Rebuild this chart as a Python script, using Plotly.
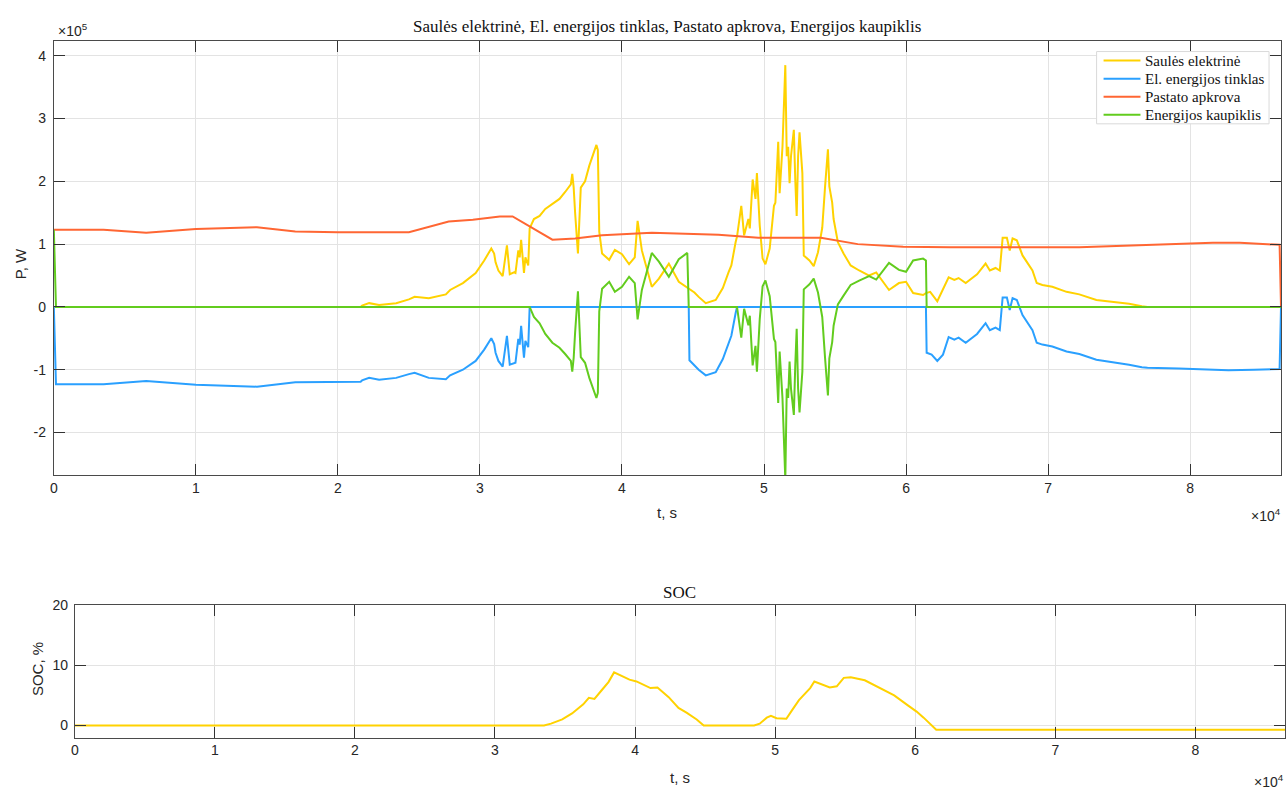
import plotly.graph_objects as go

# --- Power flows (time in s, power in W) ---
t_solar = [0, 21600, 21700, 22200, 22900, 24100, 25000, 25400, 26400, 27600, 27900, 28800, 29700,
           30300, 30800, 31000, 31100, 31300, 31600, 31700, 31900, 32100, 32400, 32500, 32700,
           32800, 32900, 33100, 33200, 33400, 33500, 33800, 34200, 34600, 35100, 35600, 36000,
           36200, 36400, 36500, 36600, 36700, 36900, 37100, 37400, 37700, 38000, 38200, 38300,
           38400, 38600, 39100, 39500, 40000, 40500, 40900, 41100, 41400, 41700, 42100, 42600,
           43300, 44000, 44600, 45100, 45400, 45900, 46600, 47100, 47500, 47700, 48000, 48100,
           48400, 48600, 48900, 49000, 49200, 49400, 49500, 49700, 49900, 50100, 50400, 50700,
           50800, 51000, 51100, 51200, 51300, 51500, 51600, 51700, 51800, 51900, 52100, 52200,
           52300, 52400, 52500, 52700, 52800, 53200, 53500, 53800, 54100, 54300, 54500, 54600,
           54800, 54900, 55200, 55600, 56100, 56700, 57400, 57900, 58200, 58800, 59500, 60000,
           60500, 61200, 61400, 61700, 62200, 63000, 63400, 63700, 64200, 65000, 65600, 65900,
           66300, 66600, 66800, 67100, 67300, 67500, 67800, 68200, 68900, 69200, 69600, 70300,
           71300, 72200, 73400, 74600, 75700, 76600, 77000, 86400]
p_solar = [0, 0, 2e3, 6e3, 3e3, 6e3, 1.2e4, 1.6e4, 1.4e4, 2.0e4, 2.7e4, 3.8e4, 5.4e4,
           7.4e4, 9.3e4, 8.5e4, 7.1e4, 5.8e4, 4.9e4, 6.6e4, 9.8e4, 5.2e4, 5.5e4, 5.4e4, 9.0e4,
           7.9e4, 1.07e5, 5.4e4, 7.9e4, 6.6e4, 1.25e5, 1.40e5, 1.45e5, 1.56e5, 1.64e5, 1.72e5, 1.83e5,
           1.89e5, 1.95e5, 2.12e5, 1.90e5, 1.50e5, 8.5e4, 1.90e5, 2.00e5, 2.25e5, 2.45e5, 2.58e5, 2.50e5,
           1.20e5, 8.5e4, 7.5e4, 9.1e4, 8.4e4, 6.8e4, 7.9e4, 1.37e5, 9.0e4, 6.5e4, 3.2e4, 4.5e4,
           6.9e4, 4.0e4, 3.0e4, 2.3e4, 1.6e4, 6e3, 1.1e4, 3.0e4, 5.5e4, 6.6e4, 1.03e5, 1.12e5,
           1.61e5, 1.14e5, 1.40e5, 1.25e5, 2.03e5, 1.72e5, 2.13e5, 1.29e5, 7.7e4, 6.8e4, 9.3e4, 1.61e5,
           1.66e5, 2.63e5, 1.81e5, 2.29e5, 2.55e5, 3.85e5, 2.40e5, 2.55e5, 1.97e5, 2.40e5, 2.82e5, 2.03e5,
           1.45e5, 2.40e5, 2.78e5, 2.13e5, 8.2e4, 7.4e4, 6.5e4, 8.7e4, 1.26e5, 1.92e5, 2.51e5, 1.92e5,
           1.66e5, 1.40e5, 1.03e5, 8.5e4, 6.6e4, 5.8e4, 5.0e4, 5.5e4, 4.6e4, 2.7e4, 3.8e4, 4.0e4,
           2.2e4, 1.9e4, 2.2e4, 2.4e4, 9e3, 4.7e4, 4.3e4, 4.6e4, 3.8e4, 5.2e4, 6.9e4, 5.8e4,
           6.2e4, 5.8e4, 1.10e5, 1.10e5, 9.0e4, 1.09e5, 1.06e5, 8.2e4, 5.8e4, 3.8e4, 3.5e4, 3.2e4,
           2.4e4, 2.0e4, 1.1e4, 8e3, 5e3, 1e3, 0, 0]

t_grid = [0, 150, 3500, 6500, 10000, 14300, 17000, 20000, 21600, 21700, 22200, 22900, 24100,
          25000, 25400, 26400, 27600, 27900, 28800, 29700, 30300, 30800, 31000, 31100, 31300,
          31600, 31700, 31900, 32100, 32400, 32500, 32700, 32800, 32900, 33100, 33200, 33400,
          33500, 44700, 44750, 45100, 45400, 45900, 46600, 47100, 47500, 47700, 48000, 48100,
          61400, 61450, 61800, 62200, 62600, 63000, 63400, 63700, 64200, 65000, 65600, 65900,
          66300, 66600, 66800, 67100, 67300, 67500, 67800, 68200, 68900, 69200, 69600, 70300,
          71300, 72200, 73400, 74600, 75700, 76600, 77000, 79200, 81600, 82700, 84500, 86300, 86400]
p_grid = [0, -1.23e5, -1.23e5, -1.18e5, -1.24e5, -1.27e5, -1.20e5, -1.19e5, -1.19e5, -1.17e5, -1.13e5, -1.16e5, -1.13e5,
          -1.07e5, -1.05e5, -1.13e5, -1.15e5, -1.09e5, -1.00e5, -8.6e4, -6.8e4, -5.0e4, -5.9e4, -7.3e4, -8.6e4,
          -9.5e4, -7.8e4, -4.6e4, -9.2e4, -8.9e4, -8.9e4, -5.1e4, -6.0e4, -3.0e4, -8.1e4, -5.4e4, -6.4e4,
          0, 0, -8.5e4, -9.3e4, -1.00e5, -1.09e5, -1.04e5, -8.3e4, -5.8e4, -4.6e4, -1.0e4, 0,
          0, -7.3e4, -7.6e4, -8.6e4, -7.6e4, -4.8e4, -5.2e4, -4.9e4, -5.7e4, -4.3e4, -2.6e4, -3.7e4,
          -3.3e4, -3.7e4, 1.5e4, 1.5e4, -5e3, 1.4e4, 1.1e4, -1.3e4, -3.7e4, -5.7e4, -6.0e4, -6.3e4,
          -7.1e4, -7.5e4, -8.4e4, -8.8e4, -9.2e4, -9.6e4, -9.7e4, -9.8e4, -1.00e5, -1.01e5, -1.00e5, -9.9e4, 0]

t_load = [0, 3500, 6500, 10000, 14300, 17000, 20000, 25000, 27800, 29500, 31400, 32300, 35100,
          36700, 38600, 42100, 46800, 49600, 54000, 56600, 59800, 63100, 72200, 76900, 81600,
          83500, 86300, 86400]
p_load = [1.23e5, 1.23e5, 1.18e5, 1.24e5, 1.27e5, 1.20e5, 1.19e5, 1.19e5, 1.36e5, 1.39e5, 1.44e5, 1.44e5, 1.07e5,
          1.09e5, 1.14e5, 1.18e5, 1.15e5, 1.10e5, 1.10e5, 1.00e5, 0.96e5, 0.95e5, 0.95e5, 0.98e5, 1.02e5,
          1.02e5, 0.99e5, 0]

t_storage = [0, 150, 33500, 33800, 34200, 34600, 35100, 35600, 36000, 36200, 36400, 36500, 36600,
             36700, 36900, 37100, 37400, 37700, 38000, 38200, 38300, 38400, 38600, 39100, 39500,
             40000, 40500, 40900, 41100, 41400, 41700, 42100, 42600, 43300, 44000, 44600, 44700,
             48100, 48400, 48600, 48900, 49000, 49200, 49400, 49500, 49700, 49900, 50100, 50400,
             50700, 50800, 51000, 51100, 51200, 51300, 51500, 51600, 51700, 51800, 51900, 52100,
             52200, 52300, 52400, 52500, 52700, 52800, 53200, 53500, 53800, 54100, 54300, 54500,
             54600, 54800, 54900, 55200, 55600, 56100, 56700, 57400, 57900, 58200, 58800, 59500,
             60000, 60500, 61200, 61400, 61450, 86400]
p_storage = [1.23e5, 0, 0, -1.6e4, -2.6e4, -4.3e4, -5.7e4, -6.5e4, -7.5e4, -8.0e4, -8.6e4, -1.03e5, -8.1e4,
             -4.1e4, 2.5e4, -8.0e4, -8.9e4, -1.13e5, -1.33e5, -1.45e5, -1.37e5, -7e3, 2.9e4, 4.0e4, 2.4e4,
             3.2e4, 4.8e4, 3.8e4, -2.0e4, 2.7e4, 5.2e4, 8.6e4, 7.2e4, 4.8e4, 7.6e4, 8.6e4, 0,
             0, -4.9e4, -3e3, -2.9e4, -1.4e4, -9.3e4, -6.2e4, -1.03e5, -1.9e4, 3.3e4, 4.2e4, 1.7e4,
             -5.1e4, -5.6e4, -1.53e5, -7.1e4, -1.19e5, -1.45e5, -2.75e5, -1.30e5, -1.45e5, -8.7e4, -1.30e5, -1.72e5,
             -9.3e4, -3.5e4, -1.30e5, -1.68e5, -1.03e5, 2.8e4, 3.6e4, 4.5e4, 2.3e4, -1.6e4, -8.2e4, -1.41e5,
             -8.2e4, -5.6e4, -3.0e4, 4e3, 1.8e4, 3.5e4, 4.2e4, 4.9e4, 4.35e4, 5.2e4, 7.0e4, 5.9e4,
             5.6e4, 7.4e4, 7.7e4, 7.4e4, 0, 0]

# --- State of charge (%) ---
t_soc = [0, 33500, 34000, 34800, 35500, 36300, 36700, 37100, 37600, 38100, 38500, 39600, 40100,
         41100, 41600, 42400, 43100, 43700, 44400, 44900, 48500, 48900, 49400, 49700, 50100,
         50800, 51200, 51700, 52500, 52800, 53900, 54400, 54900, 55400, 56400, 57800, 58500,
         59500, 60100, 60600, 61500, 86400]
soc = [0, 0, 0.3, 1.0, 2.0, 3.5, 4.6, 4.4, 5.8, 7.2, 8.8, 7.6, 7.3,
       6.2, 6.3, 4.7, 2.9, 2.1, 1.0, 0, 0, 0.3, 1.3, 1.6, 1.2,
       1.1, 2.5, 4.2, 6.2, 7.3, 6.3, 6.5, 7.9, 8.0, 7.5, 5.9, 5.0,
       3.3, 2.3, 1.3, -0.7, -0.7]

series_names = ["Saulės elektrinė", "El. energijos tinklas", "Pastato apkrova", "Energijos kaupiklis"]
series_colors = ["#FFD200", "#2AA0FF", "#FF6633", "#62CC1E"]
soc_color = "#FFD200"

x_ticks = [0, 10000, 20000, 30000, 40000, 50000, 60000, 70000, 80000]
x_tick_text = ["0", "1", "2", "3", "4", "5", "6", "7", "8"]
p_ticks = [-200000, -100000, 0, 100000, 200000, 300000, 400000]
p_tick_text = ["-2", "-1", "0", "1", "2", "3", "4"]
soc_ticks = [0, 10, 20]

W, H = 1286, 789
SANS = "Liberation Sans, Arial, sans-serif"
SERIF = "Liberation Serif, Times New Roman, serif"
AXIS_COL = "#4A4A4A"
GRID_COL = "#E3E3E3"
TXT_COL = "#262626"
LINE_W = 2


def px_x(p):
    return p / W


def px_y(p):
    return 1 - p / H


fig = go.Figure()
for t, p, name, col in zip([t_solar, t_grid, t_load, t_storage],
                           [p_solar, p_grid, p_load, p_storage],
                           series_names, series_colors):
    fig.add_trace(go.Scatter(x=t, y=p, mode="lines", name=name, showlegend=False,
                             line=dict(color=col, width=LINE_W),
                             xaxis="x", yaxis="y"))

fig.add_trace(go.Scatter(x=t_soc, y=soc, mode="lines", name="SOC", showlegend=False,
                         line=dict(color=soc_color, width=LINE_W),
                         xaxis="x2", yaxis="y2"))

axis_common = dict(showline=True, linecolor=AXIS_COL, linewidth=1, mirror="allticks",
                   ticks="inside", ticklen=11, tickcolor="#333333", tickwidth=1,
                   showgrid=True, gridcolor=GRID_COL, gridwidth=1, zeroline=False,
                   tickfont=dict(family=SANS, size=14, color=TXT_COL))

fig.update_layout(
    width=W, height=H,
    margin=dict(l=0, r=0, t=0, b=0),
    paper_bgcolor="white", plot_bgcolor="white",
    showlegend=False,
    xaxis=dict(domain=[px_x(50), px_x(1281)], range=[0, 86400], anchor="y",
               tickmode="array", tickvals=x_ticks, ticktext=x_tick_text, **axis_common),
    yaxis=dict(domain=[px_y(472), px_y(33)], range=[-268000, 424000], anchor="x",
               tickmode="array", tickvals=p_ticks, ticktext=p_tick_text,
               ticklabelstandoff=4, **axis_common),
    xaxis2=dict(domain=[px_x(71), px_x(1285)], range=[0, 86400], anchor="y2",
                tickmode="array", tickvals=x_ticks, ticktext=x_tick_text, **axis_common),
    yaxis2=dict(domain=[px_y(737), px_y(603)], range=[-2, 20], anchor="x2",
                tickmode="array", tickvals=soc_ticks, ticklabelstandoff=3, **axis_common),
)

# Legend box of the power plot (top right, inside the axes)
LEG_L, LEG_R, LEG_T, LEG_B = 1096, 1269, 44, 117
fig.add_shape(type="rect", xref="paper", yref="paper",
              x0=px_x(LEG_L), x1=px_x(LEG_R), y0=px_y(LEG_B), y1=px_y(LEG_T),
              fillcolor="white", line=dict(color="#DADADA", width=1), layer="above")
row_h = (LEG_B - LEG_T) / len(series_names)
for i, (name, col) in enumerate(zip(series_names, series_colors)):
    yc = LEG_T + row_h * (i + 0.5)
    fig.add_shape(type="line", xref="paper", yref="paper",
                  x0=px_x(LEG_L + 7), x1=px_x(LEG_L + 44), y0=px_y(yc), y1=px_y(yc),
                  line=dict(color=col, width=LINE_W), layer="above")
    fig.add_annotation(xref="paper", yref="paper", showarrow=False,
                       x=px_x(LEG_L + 47), y=px_y(yc), xanchor="left", yanchor="middle",
                       text=name, font=dict(family=SERIF, size=15, color="#111111"))

annotations = [
    dict(text="Saulės elektrinė, El. energijos tinklas, Pastato apkrova, Energijos kaupiklis",
         x=px_x(665.5), y=px_y(19), font=dict(family=SERIF, size=17, color="#111111")),
    dict(text="SOC", x=px_x(678), y=px_y(590), font=dict(family=SERIF, size=17, color="#111111")),
    dict(text="P, W", x=px_x(16), y=px_y(258), textangle=-90,
         font=dict(family=SANS, size=15, color=TXT_COL)),
    dict(text="t, s", x=px_x(665.5), y=px_y(510), font=dict(family=SANS, size=15, color=TXT_COL)),
    dict(text="SOC, %", x=px_x(33), y=px_y(668), textangle=-90,
         font=dict(family=SANS, size=15, color=TXT_COL)),
    dict(text="t, s", x=px_x(678), y=px_y(777), font=dict(family=SANS, size=15, color=TXT_COL)),
    dict(text="×10<sup>5</sup>", x=px_x(52), y=px_y(22), xanchor="left",
         font=dict(family=SANS, size=14, color=TXT_COL)),
    dict(text="×10<sup>4</sup>", x=px_x(1283), y=px_y(512), xanchor="right",
         font=dict(family=SANS, size=14, color=TXT_COL)),
    dict(text="×10<sup>4</sup>", x=px_x(1286), y=px_y(781), xanchor="right",
         font=dict(family=SANS, size=14, color=TXT_COL)),
]
for a in annotations:
    a.setdefault("xanchor", "center")
    fig.add_annotation(xref="paper", yref="paper", showarrow=False, yanchor="middle", **a)

fig.write_html("out.html")
